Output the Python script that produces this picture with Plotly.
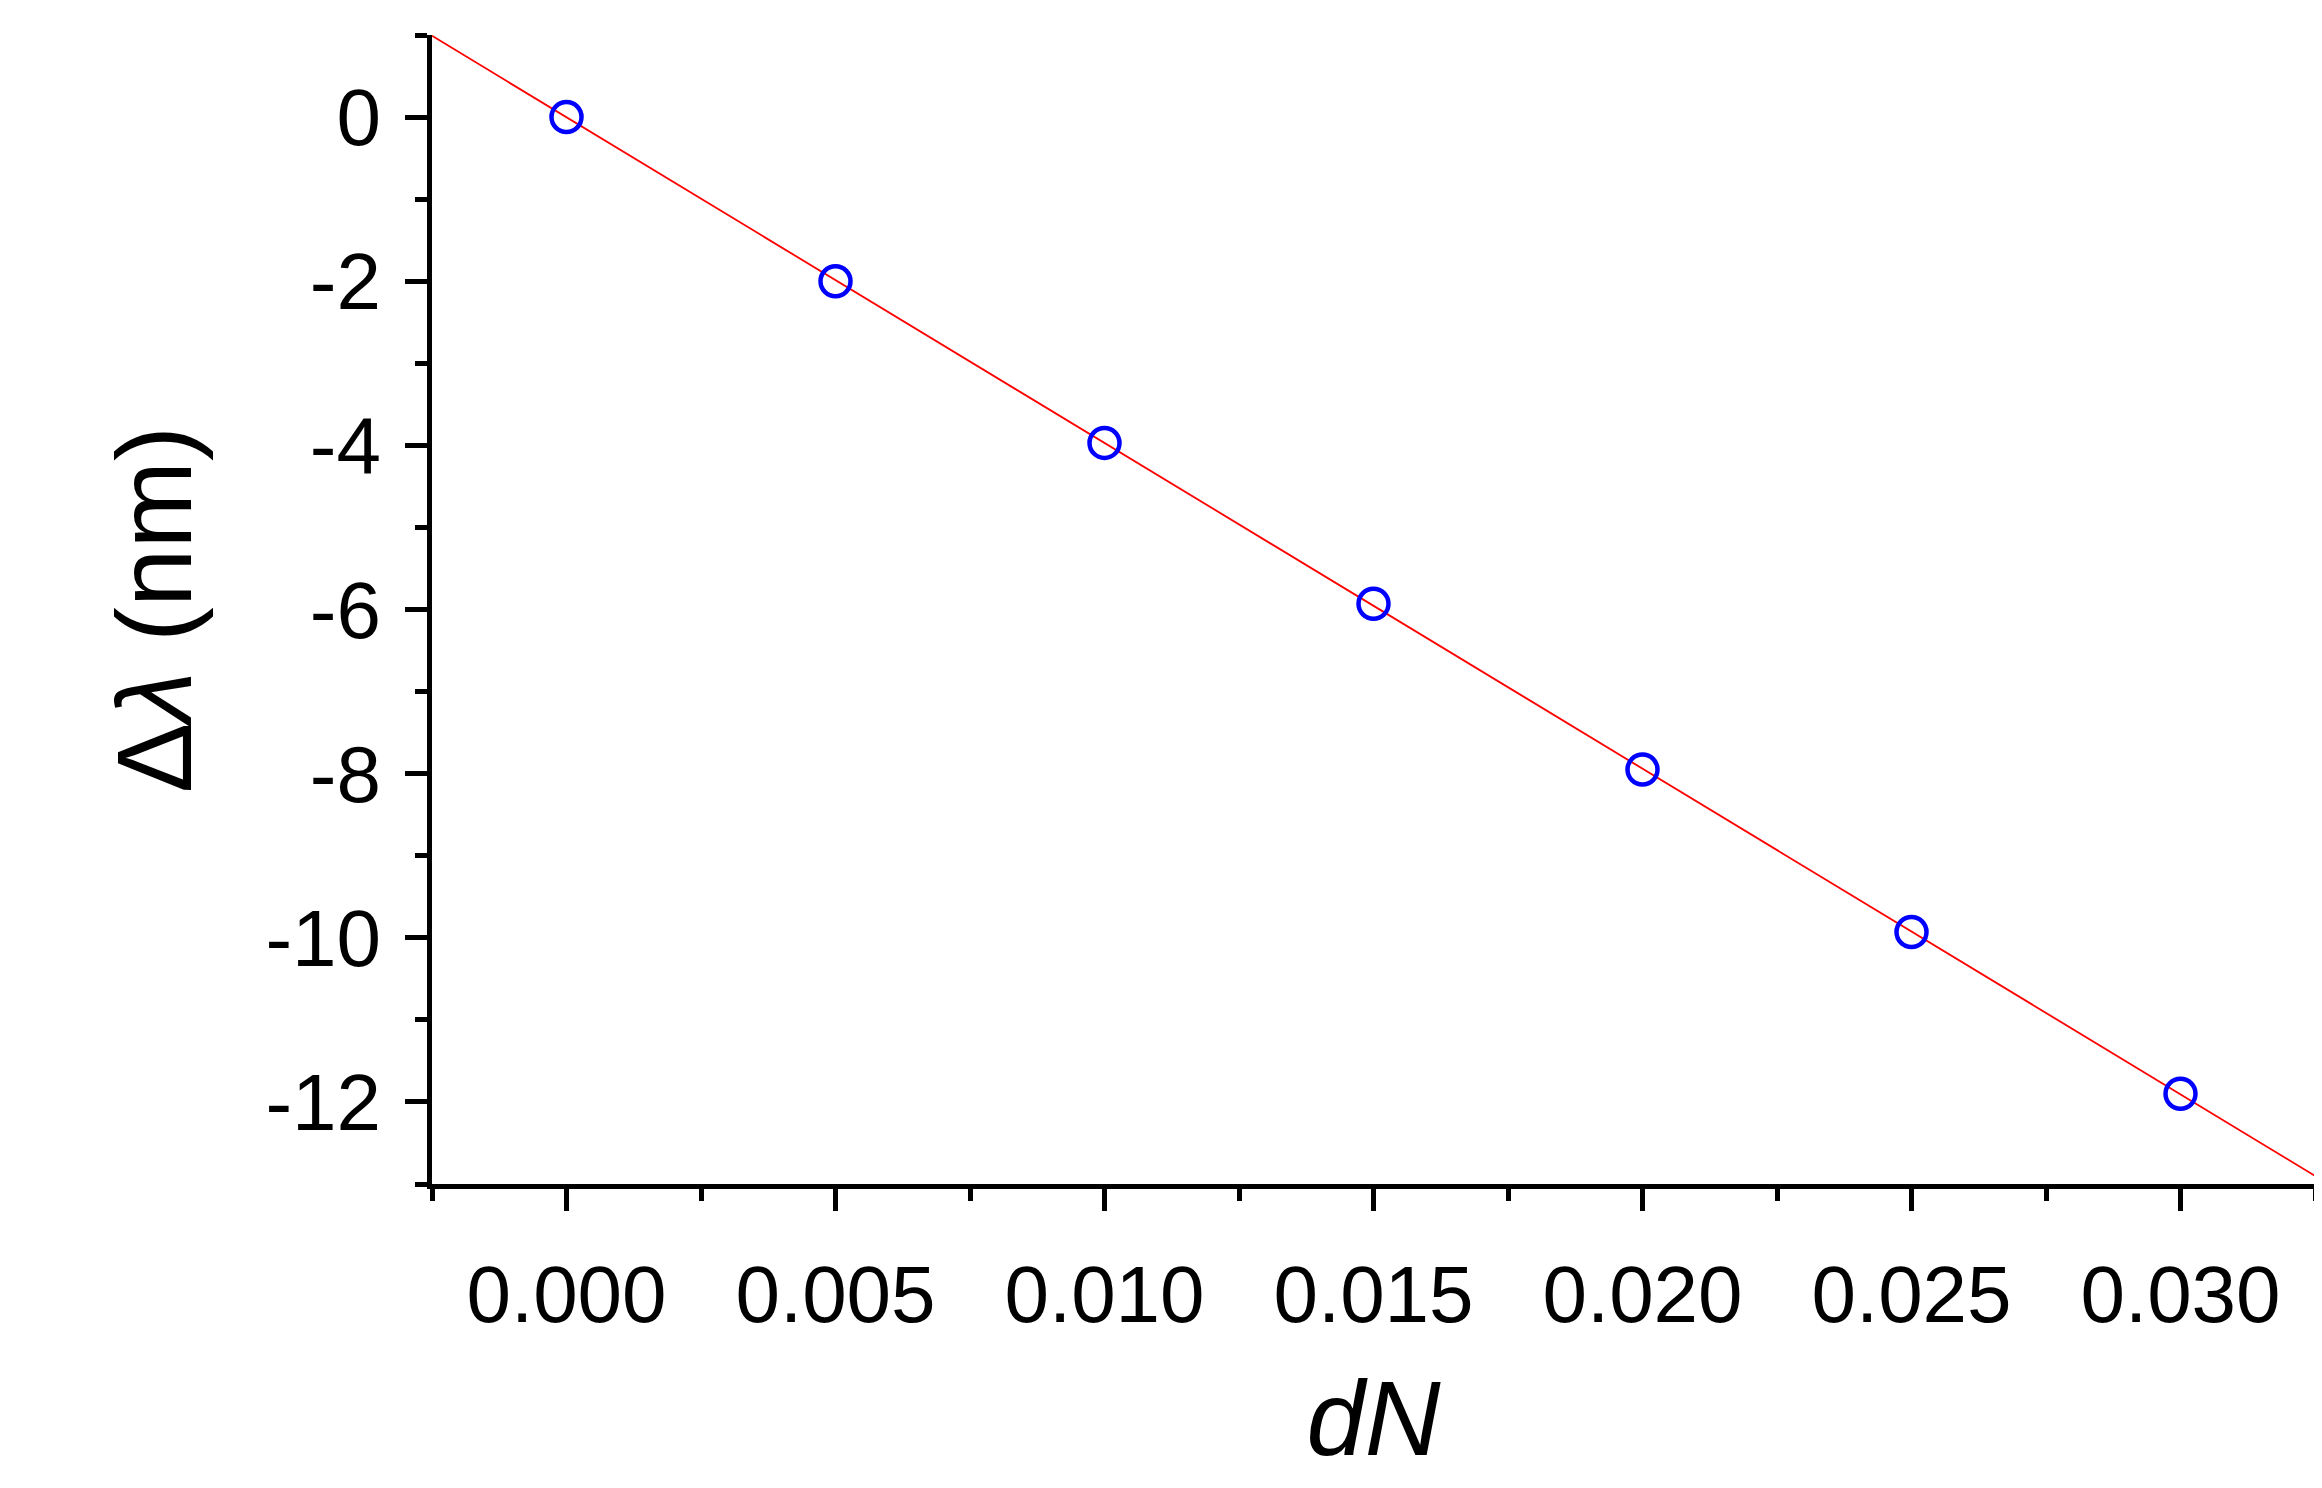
import plotly.graph_objects as go

dN = [0.000, 0.005, 0.010, 0.015, 0.020, 0.025, 0.030]
dlam = [0.0, -2.0, -3.97, -5.93, -7.95, -9.93, -11.9]
fit_x = [-0.0025, 0.0325]
fit_y = [0.99, -12.9]
x_ticks = [0, 0.005, 0.01, 0.015, 0.02, 0.025, 0.03]
x_labels = ["0.000", "0.005", "0.010", "0.015", "0.020", "0.025", "0.030"]
y_ticks = [0, -2, -4, -6, -8, -10, -12]
y_labels = ["0", "-2", "-4", "-6", "-8", "-10", "-12"]

fig = go.Figure()
fig.add_trace(go.Scatter(x=fit_x, y=fit_y, mode="lines", line=dict(color="red", width=1.8), showlegend=False))
fig.add_trace(go.Scatter(x=dN, y=dlam, mode="markers", showlegend=False,
                         marker=dict(symbol="circle-open", size=30, color="blue", line=dict(width=4.5, color="blue"))))
font = dict(family="Liberation Sans, Arial", size=80, color="black")
tfont = dict(family="Liberation Sans, Arial", size=105, color="black")
axcommon = dict(showgrid=False, zeroline=False, showline=True, linecolor="black", linewidth=5,
                ticks="outside", ticklen=22, tickwidth=5, tickcolor="black", tickfont=font)
fig.update_xaxes(range=[-0.0025, 0.0325], tickvals=x_ticks, ticktext=x_labels,
                 minor=dict(dtick=0.0025, tick0=0, ticks="outside", ticklen=12, tickwidth=4.5, tickcolor="black"),
                 title=dict(text="<i>dN</i>", font=tfont, standoff=45), ticklabelstandoff=15, **axcommon)
fig.update_yaxes(range=[-13, 1], tickvals=y_ticks, ticktext=y_labels,
                 minor=dict(dtick=1, tick0=0, ticks="outside", ticklen=12, tickwidth=4.5, tickcolor="black"),
                 title=dict(text="Δ<i>λ</i> (nm)", font=tfont, standoff=40), ticklabelstandoff=8, **axcommon)
fig.update_layout(width=2322, height=1488, margin=dict(l=424, r=15, t=27, b=312),
                  plot_bgcolor="white", paper_bgcolor="white")
fig.write_html("out.html")
